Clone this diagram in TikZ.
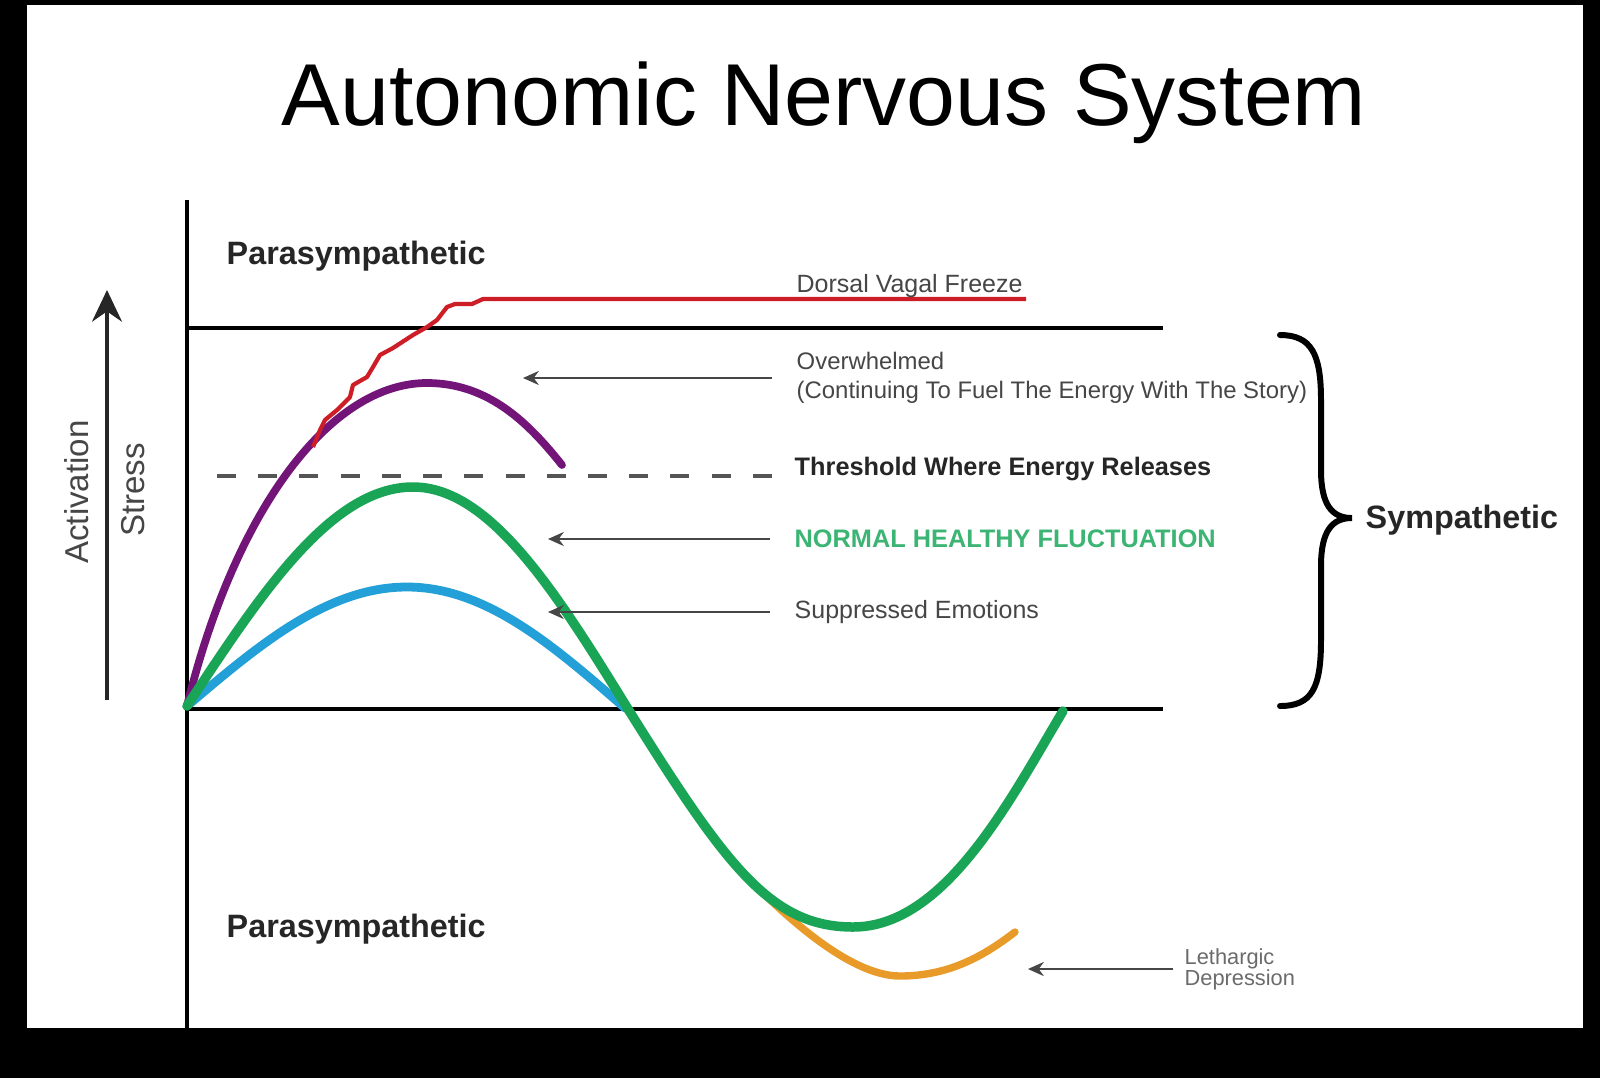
\documentclass[tikz,border=0pt]{standalone}
\usepackage{fontspec}
\setmainfont{Liberation Sans}
\usetikzlibrary{arrows.meta}
\definecolor{cGreen} {RGB}{25, 165, 85}
\definecolor{cGreenT}{RGB}{60, 180, 115}
\definecolor{cBlue}  {RGB}{35, 160, 215}
\definecolor{cPurple}{RGB}{115, 20, 120}
\definecolor{cRed}   {RGB}{205, 30, 40}
\definecolor{cOrange}{RGB}{232, 155, 40}
\definecolor{cLabel} {RGB}{70, 70, 70}
\definecolor{cDash}  {RGB}{85, 85, 85}
\tikzset{
  axisL/.style  = {line width=1.1pt, black},
  curve/.style  = {line width=2.5pt, line cap=round},
  lbl/.style    = {anchor=west, inner sep=0pt, align=left, text=cLabel,
                   font=\fontsize{7.1}{8.3}\selectfont},
  lblB/.style   = {lbl, font=\fontsize{7.2}{8.3}\selectfont\bfseries},
  lblA/.style   = {-{Stealth[length=4.5pt,width=4pt]}, line width=0.55pt,
                   cLabel, shorten <=0.24cm},
  sideT/.style  = {anchor=base west, inner sep=0pt, text=black!85,
                   font=\fontsize{9.2}{11}\selectfont\bfseries},
  axisT/.style  = {rotate=90, inner sep=0pt, text=cLabel,
                   font=\fontsize{9.4}{11}\selectfont},
}

\begin{document}
\begin{tikzpicture}[x=0.01cm, y=-0.01cm]

%% ─── Frame ───────────────────────────────────────────────────────
\useasboundingbox (0,0) rectangle (1600,1078);
\fill[black] (0,0) rectangle (1600,1078);
\fill[white] (27,5) rectangle (1583,1028);

%% ─── Title ───────────────────────────────────────────────────────
\node[anchor=base, inner sep=0pt, font=\fontsize{25}{30}\selectfont]
  (title) at (824,125) {Autonomic Nervous System};

%% ─── Axes ────────────────────────────────────────────────────────
\draw[axisL] (187,200) -- (187,1028);
\draw[axisL] (187,328) -- (1163,328);
\draw[axisL] (187,709) -- (1163,709);

\draw[-{Stealth[length=9pt,width=8.5pt]}, line width=1pt, black!85]
  (107,700) -- (107,290);
\node[axisT] (act) at (77,492) {Activation};
\node[axisT] (str) at (133,490) {Stress};

\node[sideT] (paraT) at (226,264) {Parasympathetic};
\node[sideT] (paraB) at (226,937) {Parasympathetic};

%% ─── Sympathetic brace ───────────────────────────────────────────
\draw[line width=1.7pt, line cap=round]
  (1280,335) .. controls (1312,335) and (1321,355) .. (1321,400)
  -- (1321,470) .. controls (1321,505) and (1332,518) .. (1352,518)
  .. controls (1332,518) and (1321,531) .. (1321,566)
  -- (1321,640) .. controls (1321,688) and (1312,706) .. (1280,706);
\node[sideT] (symp) at (1365,528) {Sympathetic};

%% ════════════════════════════════════════════
%%  Curves
%% ════════════════════════════════════════════
\draw[curve, cBlue, line width=2.5pt]
  (187,706) sin (407,587) cos (625,708);

\draw[curve, cPurple, line width=2.2pt]
  (187,706) .. controls (235,510) and (330,383) .. (427,383)
  .. controls (490,383) and (530,425) .. (562,465);

\draw[curve, cOrange, line width=2.1pt]
  (746,876) .. controls (785,916) and (850,976) .. (900,976)
  .. controls (950,976) and (985,955) .. (1015,932);

\draw[curve, cGreen, line width=2.7pt]
  (187,706) sin (413,487) cos (628,709)
  .. controls (725,864) and (770,927) .. (853,927)
  .. controls (945,927) and (1010,800) .. (1063,711);

\draw[cRed, line width=1.2pt, line join=round]
  (313,447) -- (320,430) -- (325,420) -- (337,410) -- (350,397)
  -- (353,385) -- (367,377) -- (373,367) -- (380,355) -- (393,348)
  -- (413,335) -- (427,327) -- (437,320) -- (447,307) -- (455,304)
  -- (472,304) -- (483,299) -- (1026,299);

%% ─── Labels ──────────────────────────────────────────────────────
\node[lbl] (dvf) at (796,286) {Dorsal Vagal Freeze};
\node[lbl, font=\fontsize{6.8}{8.3}\selectfont] (ovr) at (796,378)
  {Overwhelmed\\(Continuing To Fuel The Energy With The Story)};
\node[lblB, text=black!85] (thr) at (794,469) {Threshold Where Energy Releases};
\node[lblB, text=cGreenT] (nhf) at (794,539) {NORMAL HEALTHY FLUCTUATION};
\node[lbl] (sup) at (794,612) {Suppressed Emotions};
\node[lbl, text=cLabel!80, font=\fontsize{6.2}{6}\selectfont]
  (leth) at (1184,969) {Lethargic\\Depression};

%% ─── Pointers ────────────────────────────────────────────────────
\coordinate (thrS) at (217,476);
\coordinate (tipO) at (523,380);
\coordinate (tipN) at (548,540);
\coordinate (tipS) at (548,614);
\coordinate (tipL) at (1028,970);

\draw[cDash, line width=1.1pt, dash pattern=on 0.19cm off 0.222cm]
  (thrS) -- (thrS -| thr.west) [shorten >=0.22cm];
\draw[lblA] (ovr.west) -- (ovr.west -| tipO);
\draw[lblA] (nhf.west) -- (nhf.west -| tipN);
\draw[lblA] (sup.west) -- (sup.west -| tipS);
\draw[lblA, shorten <=0.11cm] (leth.west) -- (leth.west -| tipL);

\end{tikzpicture}
\end{document}
